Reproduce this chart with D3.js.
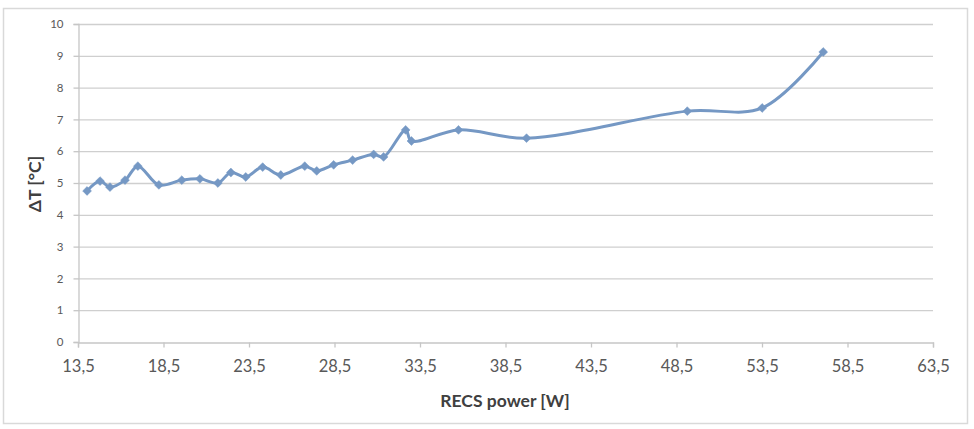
<!DOCTYPE html>
<html>
<head>
<meta charset="utf-8">
<script src="https://cdn.jsdelivr.net/npm/d3@7"></script>
<style>
  html, body { margin: 0; padding: 0; background: #fff; }
  svg { display: block; }
</style>
</head>
<body>
<svg id="chart" width="974" height="429"></svg>
<script>
// Data
const powerW = [14.03, 14.79, 15.37, 16.25, 17.0, 18.23, 19.57, 20.63, 21.68, 22.44, 23.31, 24.3, 25.36, 26.76, 27.46, 28.45, 29.56, 30.79, 31.37, 32.66, 33.0, 35.75, 39.73, 49.13, 53.51, 57.08];
const deltaT = [4.75, 5.06, 4.87, 5.09, 5.53, 4.94, 5.09, 5.13, 5.0, 5.33, 5.19, 5.5, 5.25, 5.53, 5.38, 5.57, 5.72, 5.9, 5.82, 6.67, 6.32, 6.67, 6.41, 7.26, 7.36, 9.12];
const xTicks = [13.5, 18.5, 23.5, 28.5, 33.5, 38.5, 43.5, 48.5, 53.5, 58.5, 63.5];
const yTicks = [0, 1, 2, 3, 4, 5, 6, 7, 8, 9, 10];
const xTitle = "RECS power [W]";
const yTitle = "ΔT [°C]";

(function () {
const svg = d3.select("#chart");
const font = "Lato, 'Open Sans', 'Liberation Sans', sans-serif";

// outer border
svg.append("rect")
  .attr("x", 3.5).attr("y", 8.5).attr("width", 964).attr("height", 415)
  .attr("fill", "#fff").attr("stroke", "#d9d9d9").attr("stroke-width", 1.5);

const pL = 78, pR = 933, pT = 24, pB = 342;
const x = d3.scaleLinear().domain([13.5, 63.5]).range([pL, pR]);
const y = d3.scaleLinear().domain([0, 10]).range([pB, pT]);

// gridlines
svg.append("g").selectAll("line").data(yTicks.filter(d => d > 0)).join("line")
  .attr("x1", pL).attr("x2", pR)
  .attr("y1", d => y(d) + 0.5).attr("y2", d => y(d) + 0.5)
  .attr("stroke", "#cfcfcf").attr("stroke-width", 1.3);

// y axis
const yAxis = svg.append("g").attr("transform", `translate(${pL + 0.5},0)`)
  .call(d3.axisLeft(y).tickValues(yTicks).tickSize(5).tickPadding(10).tickFormat(d3.format("d")));
yAxis.select(".domain").attr("stroke", "#c6c6c6").attr("stroke-width", 1.3);
yAxis.selectAll(".tick line").attr("stroke", "#c6c6c6").attr("stroke-width", 1.3);
yAxis.selectAll(".tick text").attr("fill", "#595959").style("font-family", font).style("font-size", "11.5px");

// x axis
const xAxis = svg.append("g").attr("transform", `translate(0,${pB + 0.5})`)
  .call(d3.axisBottom(x).tickValues(xTicks).tickSize(5).tickPadding(13)
    .tickFormat(d => d3.format(".1f")(d).replace(".", ",")));
xAxis.select(".domain").attr("stroke", "#c6c6c6").attr("stroke-width", 1.3);
xAxis.selectAll(".tick line").attr("stroke", "#c6c6c6").attr("stroke-width", 1.3);
xAxis.selectAll(".tick text").attr("fill", "#595959").style("font-family", font).style("font-size", "16.5px");

// titles
svg.append("text").attr("x", 505).attr("y", 407).attr("text-anchor", "middle")
  .style("font-family", font).style("font-size", "17.5px").style("font-weight", "bold")
  .attr("fill", "#404040").text(xTitle);
svg.append("text").attr("transform", "translate(41,184) rotate(-90)").attr("text-anchor", "middle")
  .style("font-family", font).style("font-size", "17.5px").style("font-weight", "bold")
  .attr("fill", "#404040").text(yTitle);

// line
const pts = powerW.map((p, i) => [p, deltaT[i]]);
const color = "#7598c4";
svg.append("path").datum(pts)
  .attr("d", d3.line().x(d => x(d[0])).y(d => y(d[1])).curve(d3.curveCatmullRom.alpha(0.5)))
  .attr("fill", "none").attr("stroke", color).attr("stroke-width", 3).attr("stroke-linejoin", "round");

// markers
svg.append("g").selectAll("path").data(pts).join("path")
  .attr("transform", d => `translate(${x(d[0])},${y(d[1])})`)
  .attr("d", d3.symbol().type(d3.symbolDiamond2).size(50))
  .attr("fill", color).attr("stroke", color).attr("stroke-width", 0.5);
})();
</script>
</body>
</html>
